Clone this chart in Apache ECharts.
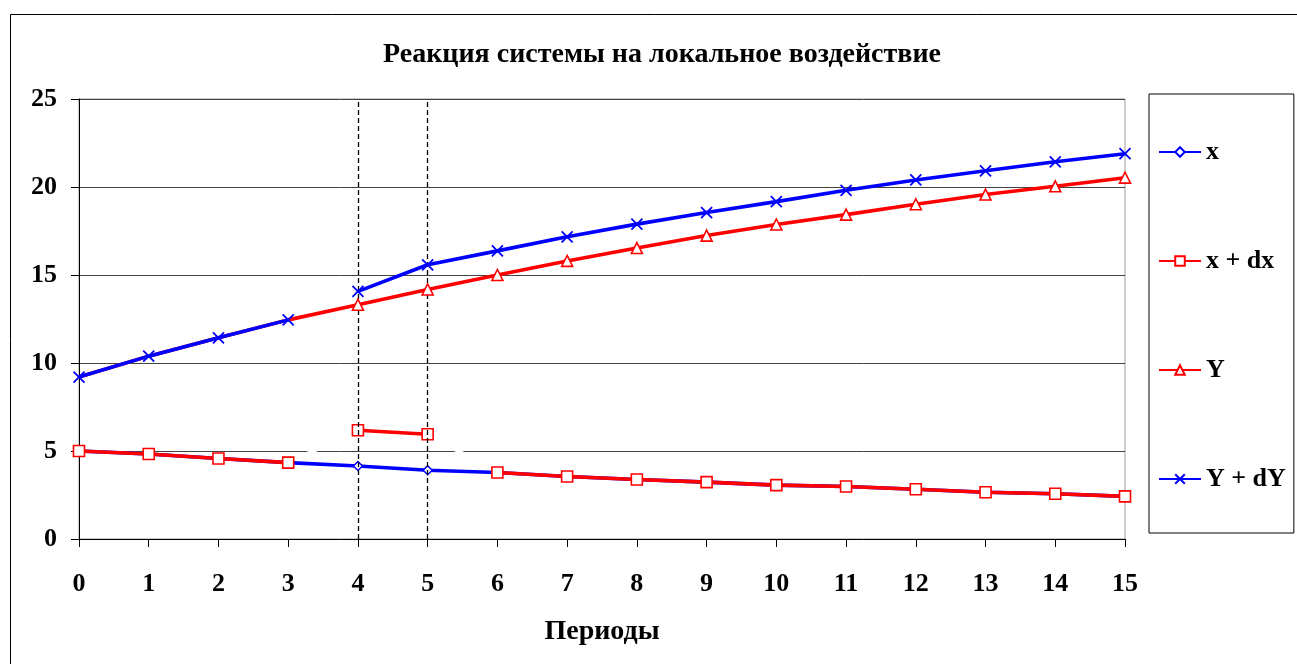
<!DOCTYPE html>
<html><head><meta charset="utf-8">
<script src="https://cdn.jsdelivr.net/npm/echarts@6/dist/echarts.min.js"></script>
<style>html,body{margin:0;padding:0;background:#fff}#c{width:1297px;height:664px}</style>
</head><body><div id="c"></div>
<script>
// ---- data ----
const periods = ['0','1','2','3','4','5','6','7','8','9','10','11','12','13','14','15'];
const xBase  = [5.0,4.83,4.57,4.34,4.15,3.91,3.78,3.55,3.38,3.23,3.06,2.98,2.83,2.66,2.57,2.42];
const xShock = [5.0,4.83,4.57,4.34,6.18,5.95,3.78,3.55,3.38,3.23,3.06,2.98,2.83,2.66,2.57,2.42];
const yBase  = [9.2,10.39,11.43,12.45,13.31,14.18,15.0,15.8,16.53,17.24,17.87,18.43,19.02,19.57,20.04,20.53];
const yShock = [9.2,10.39,11.43,12.45,14.07,15.58,16.37,17.17,17.89,18.55,19.17,19.81,20.40,20.92,21.43,21.89];
const shockPeriods = [4, 5];
const yTicks = [0, 5, 10, 15, 20, 25];
const titleText = 'Реакция системы на локальное воздействие';
const xName = 'Периоды';
const names = ['x', 'x + dx', 'Y', 'Y + dY'];

// ---- helpers ----
const BLUE = '#0000ff', RED = '#ff0000';
const FONT = '"Liberation Serif","Times New Roman",serif';
const LW = 3.6;
const s0 = shockPeriods[0], s1 = shockPeriods[shockPeriods.length - 1];
const pick = (arr, f) => arr.map((v, i) => f(i) ? v : null);
const seg = (arr, a, b) => arr.map((v, i) => (i === a || i === b) ? v : null);
const crossPath = 'path://M0,0L10,10M10,0L0,10';

function whiteSeg(data) {
  return { type: 'line', data, symbol: 'none', silent: true, z: 1,
    lineStyle: { color: '#fff', width: 4 }, legendHoverLink: false };
}

const xSeries = {
  name: names[0], type: 'line', data: xBase, z: 3,
  symbol: 'diamond', symbolSize: 9, showAllSymbol: true,
  lineStyle: { color: BLUE, width: LW },
  itemStyle: { color: '#fff', borderColor: BLUE, borderWidth: 1.5 },
  markLine: {
    silent: true, symbol: ['none', 'none'], label: { show: false },
    lineStyle: { color: '#000', type: [5, 3], width: 1.3 },
    data: shockPeriods.map(p => ({ xAxis: periods[p] }))
  }
};
const dxStyle = {
  type: 'line', z: 4, symbol: 'rect', symbolSize: 11, showAllSymbol: true,
  lineStyle: { color: RED, width: LW },
  itemStyle: { color: '#fff', borderColor: RED, borderWidth: 1.6 }
};
const dxMain  = Object.assign({ name: names[1], data: pick(xShock, i => i < s0 || i > s1) }, dxStyle);
const dxSpike = Object.assign({ name: names[1], data: pick(xShock, i => i >= s0 && i <= s1) }, dxStyle);

const ySeries = {
  name: names[2], type: 'line', z: 5, symbol: 'triangle', symbolSize: 11, showAllSymbol: true,
  data: yBase.map((v, i) => i < s0 ? { value: v, symbol: 'none' } : v),
  lineStyle: { color: RED, width: LW },
  itemStyle: { color: '#fff', borderColor: RED, borderWidth: 1.6 }
};
const dyStyle = {
  type: 'line', z: 6, symbol: crossPath, symbolSize: 11, showAllSymbol: true,
  lineStyle: { color: BLUE, width: LW },
  itemStyle: { color: 'none', borderColor: BLUE, borderWidth: 1.8 }
};
const dyPre  = Object.assign({ name: names[3], data: pick(yShock, i => i < s0) }, dyStyle);
const dyPost = Object.assign({ name: names[3], data: pick(yShock, i => i >= s0) }, dyStyle);

const option = {
  animation: false,
  backgroundColor: '#fff',
  textStyle: { fontFamily: FONT },
  title: {
    text: titleText, left: 657, top: 36, textAlign: 'center',
    textStyle: { fontFamily: FONT, fontWeight: 'bold', fontSize: 28, color: '#000' }
  },
  graphic: [{
    type: 'rect', z: -10, silent: true,
    shape: { x: 10.5, y: 14.5, width: 2000, height: 2000 },
    style: { fill: 'none', stroke: '#000', lineWidth: 1 }
  }],
  legend: {
    data: names, orient: 'vertical', left: 1149, top: 94,
    padding: [45, 8, 41, 9], itemGap: 83, itemWidth: 42, itemHeight: 12,
    backgroundColor: '#fff', borderColor: '#000', borderWidth: 1, borderRadius: 0,
    textStyle: { fontFamily: FONT, fontWeight: 'bold', fontSize: 26, color: '#000', padding: [0, 0, 0, 0] }
  },
  grid: { left: 79, right: 172, top: 99, bottom: 125, show: true, borderColor: '#999', borderWidth: 1 },
  xAxis: {
    type: 'category', data: periods, boundaryGap: false,
    name: xName, nameLocation: 'middle', nameGap: 79,
    nameTextStyle: { fontFamily: FONT, fontWeight: 'bold', fontSize: 28, color: '#000' },
    axisLine: { lineStyle: { color: '#000', width: 1 } },
    axisTick: { show: true, length: 8, alignWithLabel: true, lineStyle: { color: '#000' } },
    axisLabel: { fontFamily: FONT, fontWeight: 'bold', fontSize: 26, color: '#000', margin: 32, interval: 0 },
    splitLine: { show: false }
  },
  yAxis: {
    type: 'value', min: yTicks[0], max: yTicks[yTicks.length - 1], interval: yTicks[1] - yTicks[0],
    axisLine: { show: true, lineStyle: { color: '#000', width: 1 } },
    axisTick: { show: true, length: 8, lineStyle: { color: '#000' } },
    axisLabel: { fontFamily: FONT, fontWeight: 'bold', fontSize: 26, color: '#000', margin: 22 },
    splitLine: { show: true, lineStyle: { color: '#444', width: 1 } }
  },
  series: [
    whiteSeg(seg(xShock, s0 - 1, s0)),
    whiteSeg(seg(xShock, s1, s1 + 1)),
    whiteSeg(seg(yShock, s0 - 1, s0)),
    xSeries, dxMain, dxSpike, ySeries, dyPre, dyPost
  ]
};
const chart = echarts.init(document.getElementById('c'), null, { renderer: 'canvas' });
chart.setOption(option);
</script>
</body></html>
